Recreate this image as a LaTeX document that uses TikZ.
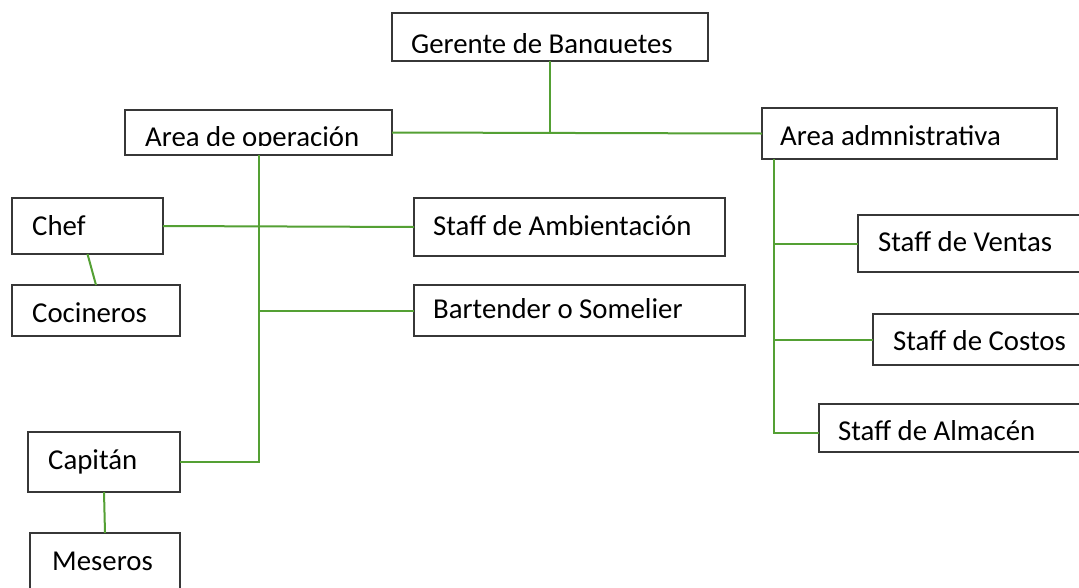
\documentclass[tikz,border=0pt]{standalone}
\usepackage{fontspec}
\setmainfont{Carlito}
\usetikzlibrary{calc}
\definecolor{lineg}{RGB}{84,160,52}
\definecolor{boxc}{RGB}{55,55,55}
\begin{document}
\begin{tikzpicture}[x=1pt,y=-1pt,
  box/.style={draw=boxc,line width=1.6pt,anchor=north west,inner sep=0pt,outer sep=0pt},
  lbl/.style={anchor=base west,inner sep=0pt,font=\fontsize{28.8}{30}\selectfont},
  conn/.style={draw=lineg,line width=2pt}]
\clip (0,0) rectangle (1079,587);
\fill[white] (0,0) rectangle (1079,587);
% boxes
\node[box,minimum width=316pt,minimum height=48pt] (ger) at (392,13) {};
\node[box,minimum width=267pt,minimum height=45pt] (op) at (125,110) {};
\node[box,minimum width=295pt,minimum height=51pt] (adm) at (762,108) {};
\node[box,minimum width=151pt,minimum height=56pt] (chef) at (12,198) {};
\node[box,minimum width=168pt,minimum height=51pt] (coc) at (12,285) {};
\node[box,minimum width=311pt,minimum height=58pt] (amb) at (414,198) {};
\node[box,minimum width=331pt,minimum height=51pt] (bar) at (414,285) {};
\node[box,minimum width=152pt,minimum height=60pt] (cap) at (28,432) {};
\node[box,minimum width=150pt,minimum height=70pt] (mes) at (30,533) {};
\node[box,minimum width=240pt,minimum height=57pt] (ven) at (858,215) {};
\node[box,minimum width=230pt,minimum height=51pt] (cos) at (873,314) {};
\node[box,minimum width=280pt,minimum height=48pt] (alm) at (819,404) {};
% labels
\begin{scope}
  \clip (392,13) rectangle (708,52);
  \node[lbl] (tger) at (411,53) {Gerente de Banquetes};
\end{scope}
\begin{scope}
  \clip (125,110) rectangle (392,145);
  \node[lbl] (top) at (145,146) {Area de operación};
\end{scope}
\node[lbl] (tadm) at (780,145) {Area admnistrativa};
\node[lbl] (tchef) at (32,235) {Chef};
\node[lbl] (tcoc) at (32,322) {Cocineros};
\node[lbl] (tamb) at (433,235) {Staff de Ambientación};
\node[lbl] (tbar) at (433,318) {Bartender o Somelier};
\node[lbl] (tven) at (878,251) {Staff de Ventas};
\node[lbl] (tcos) at (893,350) {Staff de Costos};
\node[lbl] (talm) at (838,440) {Staff de Almacén};
\node[lbl] (tcap) at (48,469) {Capitán};
\node[lbl] (tmes) at (52,570) {Meseros};
% connectors
\draw[conn] (ger.south) -- (ger.south |- op.east);
\draw[conn] (op.east) -- (adm.west);
\draw[conn] (op.south) |- (cap.east);
\draw[conn] (chef.east) -- (amb.west);
\draw[conn] (op.south |- bar.west) -- (bar.west);
\draw[conn] (chef.south) -- (coc.north);
\draw[conn] (cap.south) -- (mes.north);
\coordinate (admtop) at ($(adm.south west)+(12,0)$);
\draw[conn] (admtop) |- ([yshift=-5pt]alm.west);
\draw[conn] (admtop |- ven.west) -- (ven.west);
\draw[conn] (admtop |- cos.west) -- (cos.west);
\end{tikzpicture}
\end{document}
